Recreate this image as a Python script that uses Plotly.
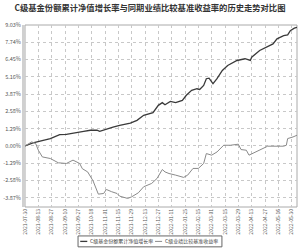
import plotly.graph_objects as go

title = "C级基金份额累计净值增长率与同期业绩比较基准收益率的历史走势对比图"
name_nav = "C级基金份额累计净值增长率"
name_bm = "C级业绩比较基准收益率"

# trading-day index and value (%)
nav_day = [0, 6, 19, 26, 31, 39, 44, 49, 54, 56, 64, 66, 71, 76, 79, 84, 89, 96, 100, 103,
           105, 109, 113, 118, 121, 125, 129, 131, 134, 136, 138, 141, 144, 148, 152, 159,
           165, 169, 170, 176, 181, 186, 189, 194, 197, 199, 202, 204]
nav_val = [0.00, 0.22, 0.55, 0.85, 0.87, 1.04, 1.09, 1.17, 1.17, 1.09, 1.37, 1.41, 1.54, 1.62,
           1.71, 1.91, 2.29, 2.49, 3.03, 3.23, 3.08, 3.33, 3.23, 3.40, 3.78, 4.15, 4.27, 4.22,
           4.52, 5.02, 5.06, 4.65, 5.02, 5.64, 6.01, 6.38, 6.51, 6.38, 6.63, 7.13, 7.37, 7.62,
           8.00, 8.24, 8.29, 8.61, 8.79, 8.86]

bm_day = [0, 5, 8, 10, 13, 19, 25, 31, 36, 39, 41, 43, 45, 47, 51, 55, 59, 61, 65, 69, 71,
          77, 80, 85, 89, 95, 99, 103, 105, 108, 113, 119, 122, 126, 130, 134, 136, 140, 144,
          149, 154, 160, 162, 166, 168, 173, 179, 182, 189, 194, 196, 197, 201, 204]
bm_val = [0.00, 0.30, 0.18, -0.32, -0.82, -0.94, -1.26, -1.31, -1.06, -1.19, -1.31, -1.70,
          -1.85, -1.94, -2.60, -3.60, -3.55, -3.25, -3.42, -3.55, -3.75, -3.92, -3.80, -3.50,
          -3.05, -2.80, -2.43, -1.76, -1.94, -2.06, -2.18, -2.35, -2.18, -1.68, -1.68, -1.31,
          -0.57, -0.69, -0.45, 0.05, 0.05, 0.13, -0.27, -0.32, -0.69, -0.45, -0.19, -0.02,
          -0.02, -0.02, 0.05, 0.55, 0.67, 0.80]

y_ticks = [9.03, 7.74, 6.45, 5.16, 3.87, 2.58, 1.29, 0.00, -1.29, -2.58, -3.87]
y_labels = ["9.03%", "7.74%", "6.45%", "5.16%", "3.87%", "2.58%", "1.29%", "0.00%",
            "-1.29%", "-2.58%", "-3.87%"]
x_ticks = list(range(0, 201, 10))
x_labels = ["2021-07-30", "2021-08-13", "2021-08-27", "2021-09-10", "2021-09-27",
            "2021-10-18", "2021-11-01", "2021-11-15", "2021-11-29", "2021-12-13",
            "2021-12-27", "2022-01-11", "2022-01-25", "2022-02-15", "2022-03-01",
            "2022-03-15", "2022-03-29", "2022-04-13", "2022-04-27", "2022-05-16",
            "2022-05-30"]

font = "Noto Sans CJK SC, Noto Sans, sans-serif"
nav_color = "#3a3a3a"
bm_color = "#8a8a8a"

fig = go.Figure()
fig.add_trace(go.Scatter(x=nav_day, y=nav_val, mode="lines", name=name_nav,
                         line=dict(color=nav_color, width=1.3)))
fig.add_trace(go.Scatter(x=bm_day, y=bm_val, mode="lines", name=name_bm,
                         line=dict(color=bm_color, width=1)))

fig.update_layout(
    width=300, height=251,
    margin=dict(l=25, r=3, t=25, b=44),
    paper_bgcolor="white", plot_bgcolor="white",
    font=dict(family=font, size=6, color="#555"),
    title=dict(text="<b>" + title + "</b>", x=0.5, xanchor="center", y=0.968, yanchor="middle",
               font=dict(family=font, size=8.3, color="#333")),
    showlegend=False,
)
fig.update_xaxes(range=[0, 204], tickmode="array", tickvals=x_ticks, ticktext=x_labels,
                 tickangle=-90, tickfont=dict(size=5, color="#555"),
                 showgrid=True, gridcolor="#c8c8c8", griddash="dot", gridwidth=1,
                 showline=False, zeroline=False, ticks="")
fig.update_yaxes(range=[-4.56, 9.03], tickmode="array", tickvals=y_ticks, ticktext=y_labels,
                 tickfont=dict(size=5.5, color="#555"),
                 showgrid=True, gridcolor="#c8c8c8", griddash="dot", gridwidth=1,
                 showline=True, linecolor="#d0d0d0", linewidth=3,
                 zeroline=False, ticks="")
fig.add_shape(type="rect", xref="paper", yref="paper", x0=0, x1=1, y0=0, y1=1,
              line=dict(color="#aaaaaa", width=1), layer="below")

# compact legend (box, short line samples, labels) in paper coordinates
fig.add_shape(type="rect", xref="paper", yref="paper", x0=0.195, x1=0.724, y0=-0.219, y1=-0.159,
              line=dict(color="#666", width=1), fillcolor="white")
fig.add_shape(type="line", xref="paper", yref="paper", x0=0.203, x1=0.229, y0=-0.189, y1=-0.189,
              line=dict(color=nav_color, width=1.3))
fig.add_annotation(xref="paper", yref="paper", x=0.233, y=-0.189, xanchor="left", yanchor="middle",
                   text=name_nav, showarrow=False, font=dict(family=font, size=5, color="#444"))
fig.add_shape(type="line", xref="paper", yref="paper", x0=0.478, x1=0.504, y0=-0.189, y1=-0.189,
              line=dict(color=bm_color, width=1))
fig.add_annotation(xref="paper", yref="paper", x=0.508, y=-0.189, xanchor="left", yanchor="middle",
                   text=name_bm, showarrow=False, font=dict(family=font, size=5, color="#444"))

fig.write_html("out.html")
